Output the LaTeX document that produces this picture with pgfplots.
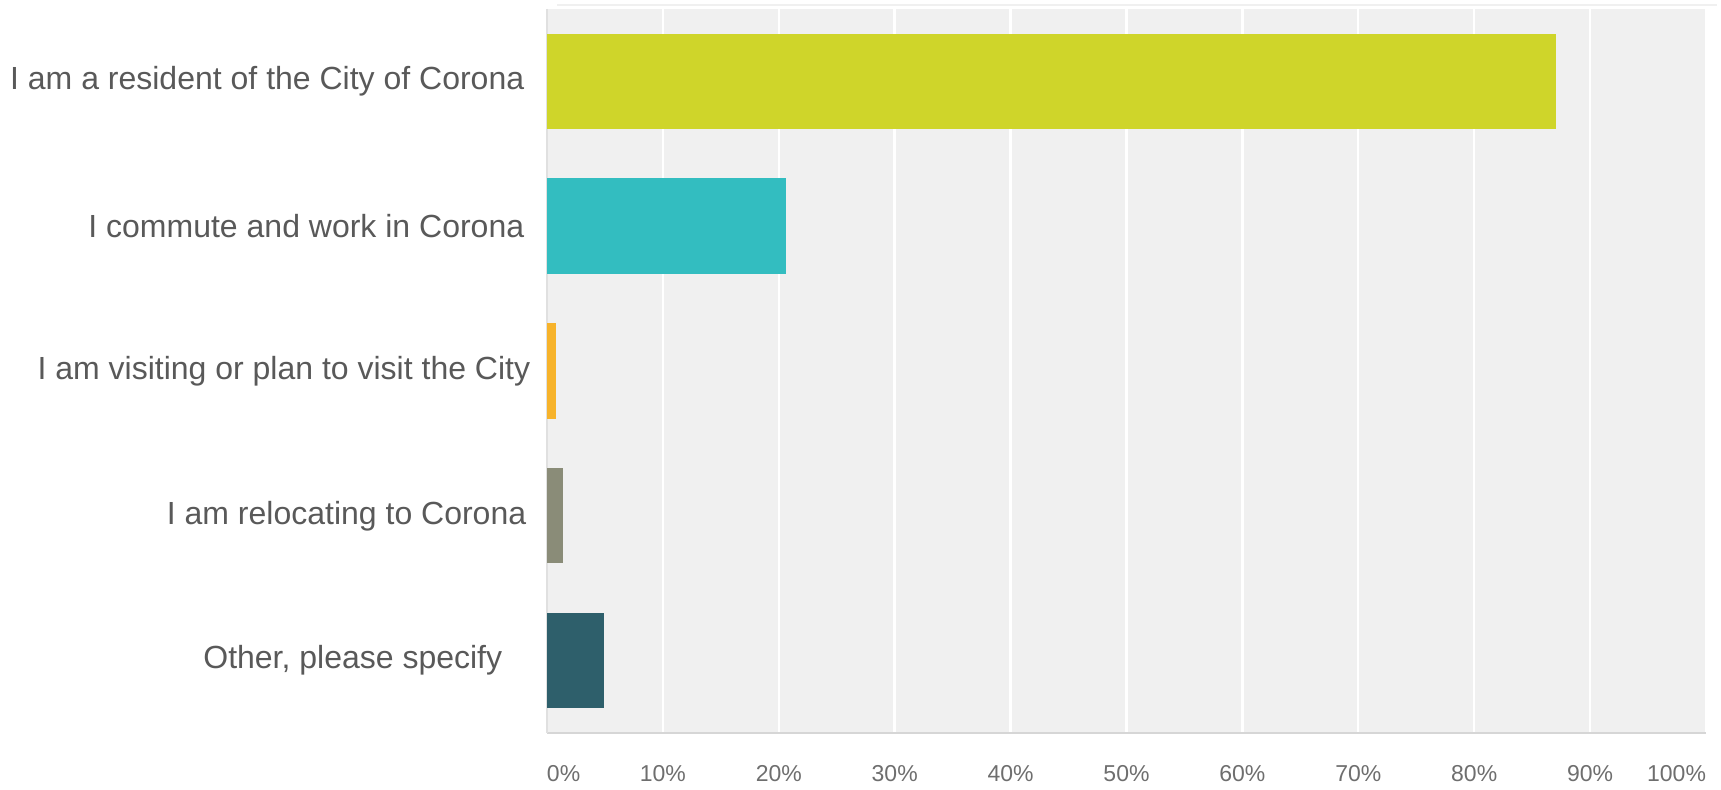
\documentclass[border=0pt]{standalone}
\usepackage{fontspec}
\setmainfont{Liberation Sans}
\usepackage{pgfplots}
\pgfplotsset{compat=1.18}

\definecolor{barA}{HTML}{CFD52A}
\definecolor{barB}{HTML}{33BDC0}
\definecolor{barC}{HTML}{F7B32B}
\definecolor{barD}{HTML}{8A8C78}
\definecolor{barE}{HTML}{2E5F6B}
\definecolor{plotbg}{HTML}{F0F0F0}
\definecolor{labelgray}{HTML}{595959}
\definecolor{tickgray}{HTML}{6E6E6E}

\begin{document}
\begin{tikzpicture}
    \begin{axis}[
        at={(0,0)}, anchor=south west,
        scale only axis,
        width=579.5pt, height=362pt,
        xbar, bar width=47.7pt, bar shift=0pt,
        xmin=0, xmax=100,
        ymin=-0.5, ymax=4.5,
        y dir=reverse,
        axis background/.style={fill=plotbg},
        axis x line*=bottom, axis y line*=left,
        x axis line style={-, draw=black!16, line width=1.2pt},
        y axis line style={-, draw=black!12, line width=0.8pt},
        major tick length=0pt,
        xtick={0,10,...,100},
        xticklabels={\makebox[0pt][l]{0\%},10\%,20\%,30\%,40\%,50\%,60\%,70\%,80\%,90\%,\makebox[0pt][r]{100\%}},
        xticklabel style={font=\fontsize{11.5}{13}\selectfont, text=tickgray,
            inner sep=0pt, anchor=north, yshift=-16pt},
        xmajorgrids,
        grid style={draw=white, line width=1.2pt},
        ytick={0,1,2,3,4},
        yticklabels={I am a resident of the City of Corona,
            I commute and work in Corona,
            \hspace*{0pt}I am visiting or plan to visit the City\hspace*{-3pt},
            I am relocating to Corona\hspace*{-1pt},
            Other{,} please specify\hspace*{11pt}},
        yticklabel style={font=\fontsize{16}{18}\selectfont, text=labelgray,
            inner sep=0pt, anchor=east, xshift=-11.2pt},
    ]
    % one series per answer so each bar keeps its own colour
    \addplot[fill=barA, draw=none] coordinates {(87.1,0)};
    \addplot[fill=barB, draw=none] coordinates {(20.6,1)};
    \addplot[fill=barC, draw=none] coordinates {(0.8,2)};
    \addplot[fill=barD, draw=none] coordinates {(1.4,3)};
    \addplot[fill=barE, draw=none] coordinates {(4.9,4)};
    \end{axis}
    % faint line above the plot area
    \draw[black!6, line width=0.8pt] (5pt,364pt) -- (585pt,364pt);
    \pgfresetboundingbox
    \path (-273.5pt,-28.5pt) rectangle (587pt,366.5pt);
\end{tikzpicture}
\end{document}
